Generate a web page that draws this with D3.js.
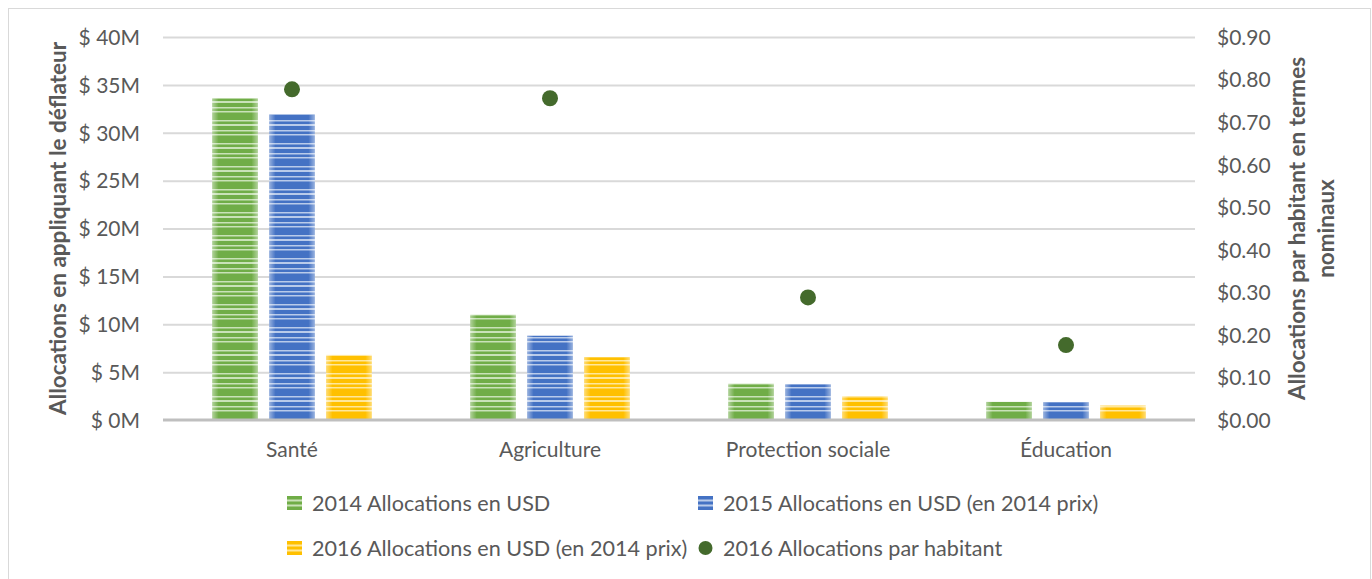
<!DOCTYPE html>
<html>
<head>
<meta charset="utf-8">
<script src="https://cdn.jsdelivr.net/npm/d3@7"></script>
<style>
  html, body { margin: 0; padding: 0; background: #fff; }
  svg { display: block; }
  text { font-family: Lato, "Noto Sans", sans-serif; fill: #595959; }
</style>
</head>
<body>
<svg id="chart" width="1372" height="579"></svg>
<script>
// ---- data ----
const categories = ["Santé", "Agriculture", "Protection sociale", "Éducation"];
const alloc2014 = [33.6, 11.0, 3.8, 1.9];
const alloc2015 = [31.9, 8.8, 3.75, 1.85];
const alloc2016 = [6.8, 6.55, 2.5, 1.5];
const perCapita2016 = [0.777, 0.756, 0.288, 0.176];
const leftTicks = [0, 5, 10, 15, 20, 25, 30, 35, 40];
const rightTicks = [0, 0.1, 0.2, 0.3, 0.4, 0.5, 0.6, 0.7, 0.8, 0.9];
const seriesNames = [
  "2014 Allocations en USD",
  "2015 Allocations en USD (en 2014 prix)",
  "2016 Allocations en USD (en 2014 prix)",
  "2016 Allocations par habitant"
];

// ---- layout ----
const W = 1372, H = 579;
const plot = { left: 163, right: 1195, top: 37, bottom: 420 };
const svg = d3.select("#chart");

const barSeries = [
  { key: "s2014", values: alloc2014, dark: "#70ad47", light: "#c9e2b8" },
  { key: "s2015", values: alloc2015, dark: "#4472c4", light: "#b9cbea" },
  { key: "s2016", values: alloc2016, dark: "#ffc000", light: "#ffe79a" }
];
const dotColor = "#446a2c";

// chart border
svg.append("rect").attr("x", 8.5).attr("y", 8.5).attr("width", W - 10).attr("height", H - 8)
  .attr("fill", "none").attr("stroke", "#d9d9d9").attr("stroke-width", 1);

// patterns
const defs = svg.append("defs");
const stripeRows = [[0, 5], [6.5, 2.5], [11, 4], [16.5, 2.5], [20.5, 2.5]]; // dark rows in a 23px period
barSeries.forEach(s => {
  const p = defs.append("pattern").attr("id", "pat-" + s.key)
    .attr("patternUnits", "userSpaceOnUse").attr("width", 4).attr("height", 23);
  p.append("rect").attr("width", 4).attr("height", 23).attr("fill", s.light);
  stripeRows.forEach(r => p.append("rect").attr("y", r[0]).attr("width", 4).attr("height", r[1]).attr("fill", s.dark));
});
const edge = defs.append("linearGradient").attr("id", "edge").attr("x1", "0").attr("x2", "1").attr("y1", "0").attr("y2", "0");
[[0, 0.45], [0.14, 0.0], [0.86, 0.0], [1, 0.45]].forEach(st =>
  edge.append("stop").attr("offset", st[0]).attr("stop-color", "#fff").attr("stop-opacity", st[1]));

// scales
const x0 = d3.scaleBand().domain(categories).range([plot.left, plot.right]).paddingInner(0.382).paddingOuter(0.191);
const x1 = d3.scaleBand().domain(barSeries.map(s => s.key)).range([0, x0.bandwidth()]).paddingInner(0.2).paddingOuter(0);
const yL = d3.scaleLinear().domain([0, 40]).range([plot.bottom, plot.top]);
const yR = d3.scaleLinear().domain([0, 0.9]).range([plot.bottom, plot.top]);

// gridlines
svg.append("g").selectAll("line").data(leftTicks.filter(t => t > 0)).join("line")
  .attr("x1", plot.left).attr("x2", plot.right)
  .attr("y1", d => yL(d) + 0.5).attr("y2", d => yL(d) + 0.5)
  .attr("stroke", "#d9d9d9").attr("stroke-width", 2);

// bars
const gBars = svg.append("g");
barSeries.forEach(s => {
  const g = gBars.append("g");
  categories.forEach((c, i) => {
    const bx = x0(c) + x1(s.key), by = yL(s.values[i]), bw = x1.bandwidth(), bh = yL(0) - yL(s.values[i]);
    g.append("rect").attr("x", bx).attr("y", by).attr("width", bw).attr("height", bh).attr("fill", `url(#pat-${s.key})`);
    g.append("rect").attr("x", bx).attr("y", by).attr("width", bw).attr("height", bh).attr("fill", "url(#edge)");
  });
});

// baseline
svg.append("line").attr("x1", plot.left).attr("x2", plot.right)
  .attr("y1", yL(0)).attr("y2", yL(0)).attr("stroke", "#bfbfbf").attr("stroke-width", 3);

// dots
svg.append("g").selectAll("circle").data(categories).join("circle")
  .attr("cx", d => x0(d) + x0.bandwidth() / 2)
  .attr("cy", (d, i) => yR(perCapita2016[i]))
  .attr("r", 8).attr("fill", dotColor);

// left axis
const axL = svg.append("g").attr("transform", `translate(${plot.left - 23},0)`)
  .call(d3.axisLeft(yL).tickValues(leftTicks).tickSize(0).tickPadding(0).tickFormat(d => "$ " + d + "M"));
axL.select(".domain").remove();
axL.selectAll("text").attr("font-size", 21).attr("dy", "0.35em").style("fill", "#595959").style("font-family", "Lato");

// right axis
const axR = svg.append("g").attr("transform", `translate(${plot.right + 22},0)`)
  .call(d3.axisRight(yR).tickValues(rightTicks).tickSize(0).tickPadding(0).tickFormat(d => "$" + d.toFixed(2)));
axR.select(".domain").remove();
axR.selectAll("text").attr("font-size", 21).attr("dy", "0.35em").style("fill", "#595959").style("font-family", "Lato");

// category axis
const axX = svg.append("g").attr("transform", `translate(0,${plot.bottom + 30})`)
  .call(d3.axisBottom(x0).tickSize(0).tickPadding(0));
axX.select(".domain").remove();
axX.selectAll("text").attr("font-size", 21).attr("dy", "0.35em").style("fill", "#595959").style("font-family", "Lato");

// axis titles
svg.append("text").attr("transform", `translate(58,${(plot.top + plot.bottom) / 2}) rotate(-90)`)
  .attr("text-anchor", "middle").attr("dy", "0.35em").attr("font-size", 22.5).attr("font-weight", "bold")
  .text("Allocations en appliquant le déflateur");
const rt = svg.append("text").attr("transform", `translate(1297,${(plot.top + plot.bottom) / 2}) rotate(-90)`)
  .attr("text-anchor", "middle").attr("font-size", 22.5).attr("font-weight", "bold");
rt.append("tspan").attr("x", 0).attr("dy", "0.35em").text("Allocations par habitant en termes");
rt.append("tspan").attr("x", 0).attr("dy", "1.3em").text("nominaux");

// legend
const legendItems = [
  { name: seriesNames[0], type: "bar", s: barSeries[0], x: 287, y: 503 },
  { name: seriesNames[1], type: "bar", s: barSeries[1], x: 698, y: 503 },
  { name: seriesNames[2], type: "bar", s: barSeries[2], x: 287, y: 548 },
  { name: seriesNames[3], type: "dot", x: 698, y: 548 }
];
const gl = svg.append("g");
legendItems.forEach(it => {
  const g = gl.append("g").attr("transform", `translate(${it.x},${it.y})`);
  if (it.type === "bar") {
    g.append("rect").attr("x", 0).attr("y", -7).attr("width", 15).attr("height", 14).attr("fill", it.s.dark);
    [-3.5, 1.5].forEach(yy => g.append("rect").attr("x", 0).attr("y", yy).attr("width", 15).attr("height", 2).attr("fill", it.s.light));
  } else {
    g.append("circle").attr("cx", 7.5).attr("cy", 0).attr("r", 7).attr("fill", dotColor);
  }
  g.append("text").attr("x", 25).attr("dy", "0.35em").attr("font-size", 21.6).text(it.name);
});
</script>
</body>
</html>
